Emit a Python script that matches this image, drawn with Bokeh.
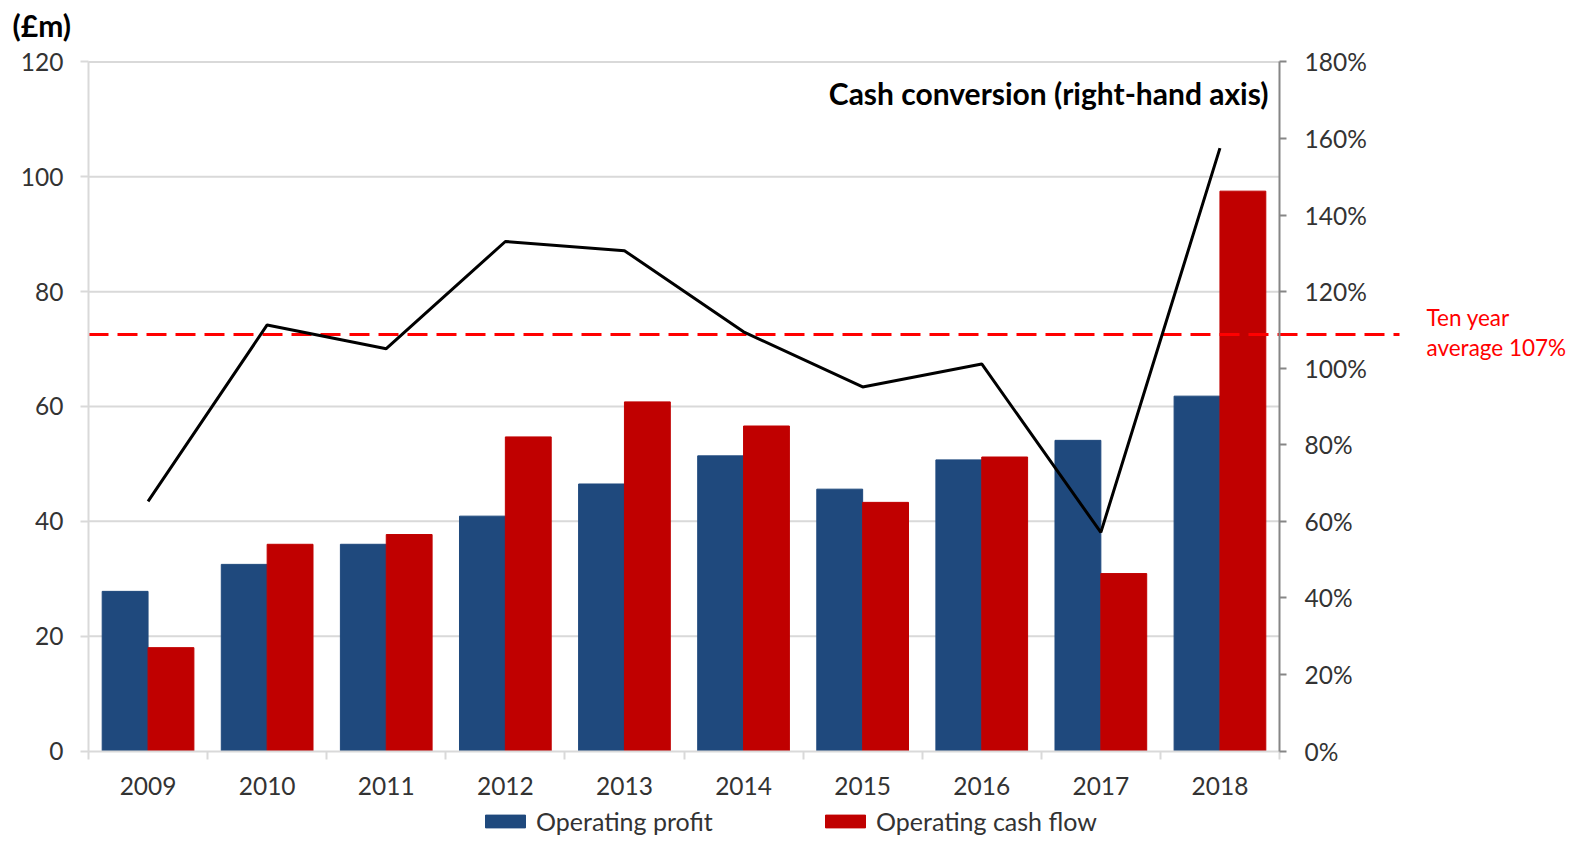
from bokeh.plotting import figure
from bokeh.models import (Range1d, LinearAxis, FixedTicker, PrintfTickFormatter,
                          Label, Legend, LegendItem)
from bokeh.embed import file_html
from bokeh.resources import INLINE

# ---- data ----
years = ["2009", "2010", "2011", "2012", "2013", "2014", "2015", "2016", "2017", "2018"]
operating_profit = [27.8, 32.5, 36.0, 40.9, 46.5, 51.4, 45.6, 50.7, 54.1, 61.8]
operating_cash_flow = [18.0, 36.0, 37.7, 54.7, 60.8, 56.6, 43.3, 51.2, 30.9, 97.5]
cash_conversion = [65.2, 111.3, 105.1, 133.1, 130.7, 109.5, 95.1, 101.1, 57.1, 157.5]
ten_year_average_drawn = 108.8
ten_year_label = ["Ten year", "average 107%"]
left_ticks = [0, 20, 40, 60, 80, 100, 120]
right_ticks = [0, 20, 40, 60, 80, 100, 120, 140, 160, 180]

# ---- layout (frame covers the whole canvas; axes are placed at fixed locations) ----
W, H = 1568, 836
AX_LEFT_PX = 88.0        # pixel of the left axis
PPU = 119.1              # pixels per category
ZERO_PX = 750.5          # pixel of y = 0
PPY = 5.742              # pixels per £m
N = len(years)

x_start = -0.5 - AX_LEFT_PX / PPU
x_end = x_start + W / PPU
y_top = ZERO_PX / PPY
y_bot = -(H - ZERO_PX) / PPY
PCT = 1.5                # 180% <-> 120

def xpx(px):  # pixel column -> x data
    return -0.5 + (px - AX_LEFT_PX) / PPU

def ypx(py):  # pixel row -> left-axis data
    return (ZERO_PX - py) / PPY

FONT = "Lato"
GRID = "#d9d9d9"
TXT = "#333333"
TICK_FS = "24.5px"

idx = list(range(N))
bw = 0.385

p = figure(width=W, height=H, x_range=Range1d(x_start, x_end), y_range=Range1d(y_bot, y_top),
           output_backend="svg", toolbar_location=None,
           min_border=0, min_border_left=0, min_border_right=0,
           min_border_top=0, min_border_bottom=0)
p.title.visible = False
p.outline_line_color = None
p.xgrid.visible = False
p.ygrid.visible = False

# left axis
ya = p.yaxis[0]
ya.fixed_location = -0.5
ya.bounds = (0, 120)
ya.ticker = FixedTicker(ticks=left_ticks)
ya.axis_line_color = GRID
ya.axis_line_width = 2
ya.major_tick_line_color = GRID
ya.major_tick_line_width = 2
ya.major_tick_out = 8
ya.major_tick_in = 0
ya.minor_tick_line_color = None
ya.major_label_standoff = 17
ya.major_label_text_font = FONT
ya.major_label_text_font_size = TICK_FS
ya.major_label_text_color = TXT

# bottom axis
xa = p.xaxis[0]
xa.fixed_location = 0
xa.ticker = FixedTicker(ticks=idx, minor_ticks=[i - 0.5 for i in range(N + 1)])
xa.major_label_overrides = {i: y for i, y in zip(idx, years)}
xa.bounds = (-0.5, N - 0.5)
xa.axis_line_color = GRID
xa.axis_line_width = 2
xa.major_tick_line_color = None
xa.major_tick_out = 0
xa.major_tick_in = 0
xa.minor_tick_line_color = GRID
xa.minor_tick_line_width = 2
xa.minor_tick_out = 8
xa.minor_tick_in = 0
xa.major_label_standoff = 18
xa.major_label_text_font = FONT
xa.major_label_text_font_size = TICK_FS
xa.major_label_text_color = TXT

# right axis (percent)
p.extra_y_ranges = {"pct": Range1d(y_bot * PCT, y_top * PCT)}
ra = LinearAxis(y_range_name="pct", fixed_location=N - 0.5,
                ticker=FixedTicker(ticks=right_ticks),
                formatter=PrintfTickFormatter(format="%d%%"), bounds=(0, 180))
ra.axis_line_color = "#868686"
ra.axis_line_width = 2
ra.major_tick_line_color = "#868686"
ra.major_tick_line_width = 2
ra.major_tick_out = 7
ra.major_tick_in = 0
ra.minor_tick_line_color = None
ra.major_label_standoff = 18
ra.major_label_text_font = FONT
ra.major_label_text_font_size = TICK_FS
ra.major_label_text_color = TXT
p.add_layout(ra, "right")

# grid lines (only across the category area)
p.segment(x0=-0.5, x1=N - 0.5, y0=left_ticks[1:], y1=left_ticks[1:],
          line_color=GRID, line_width=2)

# bars
r_op = p.vbar(x=[i - bw / 2 for i in idx], top=operating_profit, width=bw, bottom=0,
              fill_color="#1F497D", line_color="#1F497D")
r_ocf = p.vbar(x=[i + bw / 2 for i in idx], top=operating_cash_flow, width=bw, bottom=0,
               fill_color="#C00000", line_color="#C00000")

# ten-year average line
p.segment(x0=[-0.5], x1=[xpx(1399)], y0=[ten_year_average_drawn], y1=[ten_year_average_drawn],
          y_range_name="pct", line_color="#FF0000", line_width=3, line_dash="20 9")

# cash conversion line
p.line(x=idx, y=cash_conversion, y_range_name="pct", line_color="black", line_width=3)

# texts
p.add_layout(Label(x=xpx(12), y=ypx(24), text="(£m)", text_font=FONT,
                   text_font_size="30px", text_font_style="bold", text_color="black",
                   text_baseline="middle", text_align="left"))
p.add_layout(Label(x=xpx(1268), y=ypx(92), text="Cash conversion (right-hand axis)",
                   text_font=FONT, text_font_size="30px", text_font_style="bold",
                   text_color="black", text_baseline="middle", text_align="right"))
p.add_layout(Label(x=xpx(1426), y=ypx(317), text=ten_year_label[0], text_font=FONT,
                   text_font_size="22.5px", text_color="#FF0000",
                   text_baseline="middle", text_align="left"))
p.add_layout(Label(x=xpx(1426), y=ypx(347), text=ten_year_label[1], text_font=FONT,
                   text_font_size="22.5px", text_color="#FF0000",
                   text_baseline="middle", text_align="left"))

# legends
def make_legend(label, rend, xpos):
    lg = Legend(items=[LegendItem(label=label, renderers=[rend])], location=(xpos, 0),
                orientation="horizontal", padding=0, margin=0, border_line_color=None,
                background_fill_alpha=0, glyph_width=50, glyph_height=16, label_standoff=6,
                label_text_font=FONT, label_text_font_size="25px", label_text_color=TXT)
    p.add_layout(lg, "center")

make_legend("Operating profit", r_op, 480)
make_legend("Operating cash flow", r_ocf, 820)

open("out.html", "w").write(file_html(p, INLINE))
